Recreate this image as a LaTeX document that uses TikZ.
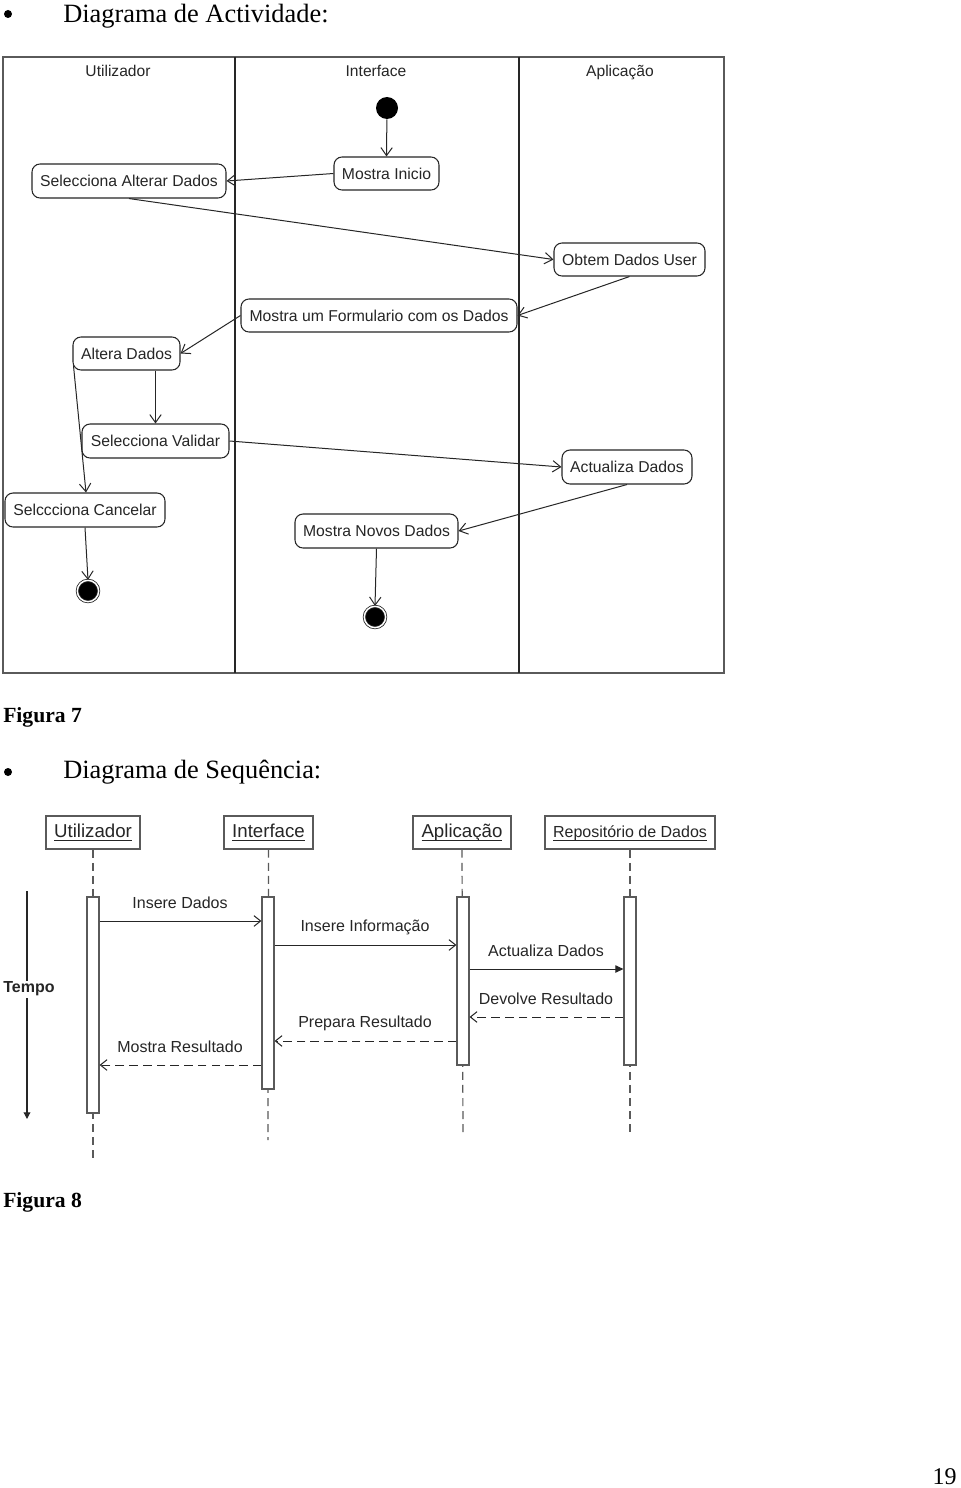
\documentclass[tikz,border=0pt]{standalone}
\usepackage{fontspec}
\setmainfont{Liberation Serif}
\newfontfamily\arialf{Liberation Sans}
\usetikzlibrary{arrows.meta,calc}
\definecolor{ink}{HTML}{262626}
\definecolor{frame}{HTML}{5A5A5A}
\newcommand\ulnm[1]{\setbox0=\hbox{#1}\rlap{\copy0}\rule[-2.2pt]{\wd0}{0.6pt}}
\tikzset{
  heading/.style={anchor=base west,inner sep=0pt,font=\fontsize{19.8}{22}\selectfont},
  caption/.style={anchor=base west,inner sep=0pt,font=\fontsize{16.2}{18}\selectfont\bfseries},
  bulletdot/.style={circle,fill=black,inner sep=0pt,minimum size=6pt},
  lanetitle/.style={anchor=base,inner sep=0pt,text=ink,font=\arialf\fontsize{11.7}{14}\selectfont},
  act/.style 2 args={draw=ink,line width=0.8pt,rounded corners=6pt,inner sep=0pt,
     minimum width=#1*0.75pt,minimum height=#2*0.75pt,text=ink,
     font=\arialf\fontsize{11.8}{14}\selectfont},
  startdot/.style={circle,fill=black,inner sep=0pt,minimum size=16.5pt},
  enddot/.style={circle,fill=black,draw=ink,line width=0.6pt,double=white,double distance=1.1pt,inner sep=0pt,minimum size=16pt},
  flow/.style={draw=ink,line width=0.75pt,-{Straight Barb[length=6pt,width=8.5pt,line width=0.75pt]}},
  obj/.style 2 args={draw=frame,line width=1.1pt,inner sep=0pt,minimum width=#1*0.75pt,minimum height=#2*0.75pt,text=ink,
     text height=10pt,text depth=2.5pt,font=\arialf\fontsize{14}{16}\selectfont},
  objsmall/.style={font=\arialf\fontsize{12}{14}\selectfont},
  lifeline/.style={draw=frame,line width=0.9pt,dash pattern=on 6pt off 3.8pt},
  actbar/.style 2 args={draw=frame,fill=white,line width=0.9pt,inner sep=0pt,minimum width=#1*0.75pt,minimum height=#2*0.75pt},
  msg/.style={draw=ink,line width=0.75pt,-{Straight Barb[length=5pt,width=8pt,line width=0.75pt]}},
  msgfill/.style={draw=ink,line width=0.75pt,-{Triangle[length=6pt,width=5.5pt]}},
  reply/.style={draw=ink,line width=0.75pt,dash pattern=on 6.5pt off 3.8pt,-{Straight Barb[length=5pt,width=8pt,line width=0.75pt,sep=0pt]}},
  msglabel/.style={inner sep=0pt,text=ink,font=\arialf\fontsize{12}{14}\selectfont},
}
\begin{document}
\begin{tikzpicture}[x=0.75pt,y=-0.75pt]
\fill[white] (0,0) rectangle (960,1488);
\useasboundingbox (0,0) rectangle (960,1488);

% ---------- headings ----------
\node[bulletdot] (b1) at (8,14) {};
\node[heading] (h1) at (63,23) {Diagrama de Actividade:};
\node[caption] (f7) at (3,722) {Figura 7};
\node[bulletdot] (b2) at (8,772) {};
\node[heading] (h2) at (63,778) {Diagrama de Sequência:};
\node[caption] (f8) at (3,1207) {Figura 8};
\node[anchor=base east,inner sep=0pt,font=\fontsize{18}{20}\selectfont] (pg) at (957,1484) {19};

% ---------- activity diagram ----------
\draw[frame,line width=1.1pt] (3,57) rectangle (724,673);
\draw[ink,line width=1.1pt] (235,57) -- (235,673);
\draw[ink,line width=1.1pt] (519,57) -- (519,673);
\node[lanetitle] (l1) at (118,77) {Utilizador};
\node[lanetitle] (l2) at (376,77) {Interface};
\node[lanetitle] (l3) at (620,77) {Aplicação};

\node[startdot] (start) at (387,108) {};
\node[act={105}{33}] (mi) at (386.5,173.5) {Mostra Inicio};
\node[act={194}{34}] (sad) at (129,181) {Selecciona Alterar Dados};
\node[act={151}{33}] (odu) at (629.5,259.5) {Obtem Dados User};
\node[act={276}{33}] (mf) at (379,315.5) {Mostra um Formulario com os Dados};
\node[act={107}{33}] (ad) at (126.5,353.5) {Altera Dados};
\node[act={147}{34}] (sv) at (155.5,441) {Selecciona Validar};
\node[act={130}{34}] (atd) at (627,467) {Actualiza Dados};
\node[act={160}{34}] (sc) at (85,510) {Selccciona Cancelar};
\node[act={163}{34}] (mnd) at (376.5,531) {Mostra Novos Dados};
\node[enddot] (end1) at (88,591) {};
\node[enddot] (end2) at (375,617) {};

\draw[flow] (start) -- (mi.north);
\draw[flow] (mi.west) -- (sad.east);
\draw[flow] (sad.south) -- (odu.west);
\draw[flow] (odu.south) -- (mf.east);
\draw[flow] (mf.west) -- (ad.east);
\draw[flow] (sv.north |- ad.south) -- (sv.north);
\draw[flow] ($(ad.south west)+(1,-5)$) -- ($(sc.north)+(1,0)$);
\draw[flow] (sv.east) -- (atd.west);
\draw[flow] (atd.south) -- (mnd.east);
\draw[flow] (sc.south) -- (end1.north);
\draw[flow] (mnd.south) -- (end2.north);

% ---------- sequence diagram ----------
\node[obj={94}{33}] (ou) at (93,832.5) {\ulnm{Utilizador}};
\node[obj={89}{33}] (oi) at (268.5,832.5) {\ulnm{Interface}};
\node[obj={98}{33}] (oa) at (462,832.5) {\ulnm{Aplicação}};
\node[obj={170}{33},objsmall] (or) at (630,832.5) {\ulnm{Repositório de Dados}};

\coordinate (eu) at (93,1158);
\coordinate (ei) at (268,1140);
\coordinate (ea) at (463,1137);
\coordinate (er) at (630,1137);
\draw[lifeline] (ou.south) -- (eu);
\draw[lifeline] (oi.south) -- (ei);
\draw[lifeline] (oa.south) -- (ea);
\draw[lifeline] (or.south) -- (er);

\node[actbar={12}{216}] (au) at (93,1005) {};
\node[actbar={12}{192}] (ai) at (268,993) {};
\node[actbar={12}{168}] (aa) at (463,981) {};
\node[actbar={12}{168}] (ar) at (630,981) {};

\draw[msg] (au.east |- 0,921) -- (ai.west |- 0,921);
\node[msglabel] (m1) at (180,903) {Insere Dados};
\draw[msg] (ai.east |- 0,945) -- (aa.west |- 0,945);
\node[msglabel] (m2) at (365,927) {Insere Informação};
\draw[msgfill] (aa.east |- 0,969) -- (ar.west |- 0,969);
\node[msglabel] (m3) at (546,951) {Actualiza Dados};
\draw[reply] (ar.west |- 0,1017) -- (aa.east |- 0,1017);
\node[msglabel] (m4) at (546,999) {Devolve Resultado};
\draw[reply] (aa.west |- 0,1041) -- (ai.east |- 0,1041);
\node[msglabel] (m5) at (365,1023) {Prepara Resultado};
\draw[reply] (ai.west |- 0,1065) -- (au.east |- 0,1065);
\node[msglabel] (m6) at (180,1047) {Mostra Resultado};

\coordinate (t0) at (27,891);
\coordinate (t1) at (27,1119);
\draw[ink,line width=0.9pt,-{Triangle[length=5pt,width=5pt]}] (t0) -- (t1);
\node[fill=white,inner sep=1pt,text=ink,font=\arialf\bfseries\fontsize{12}{14}\selectfont] (tempo) at (29,989) {Tempo};
\end{tikzpicture}
\end{document}
